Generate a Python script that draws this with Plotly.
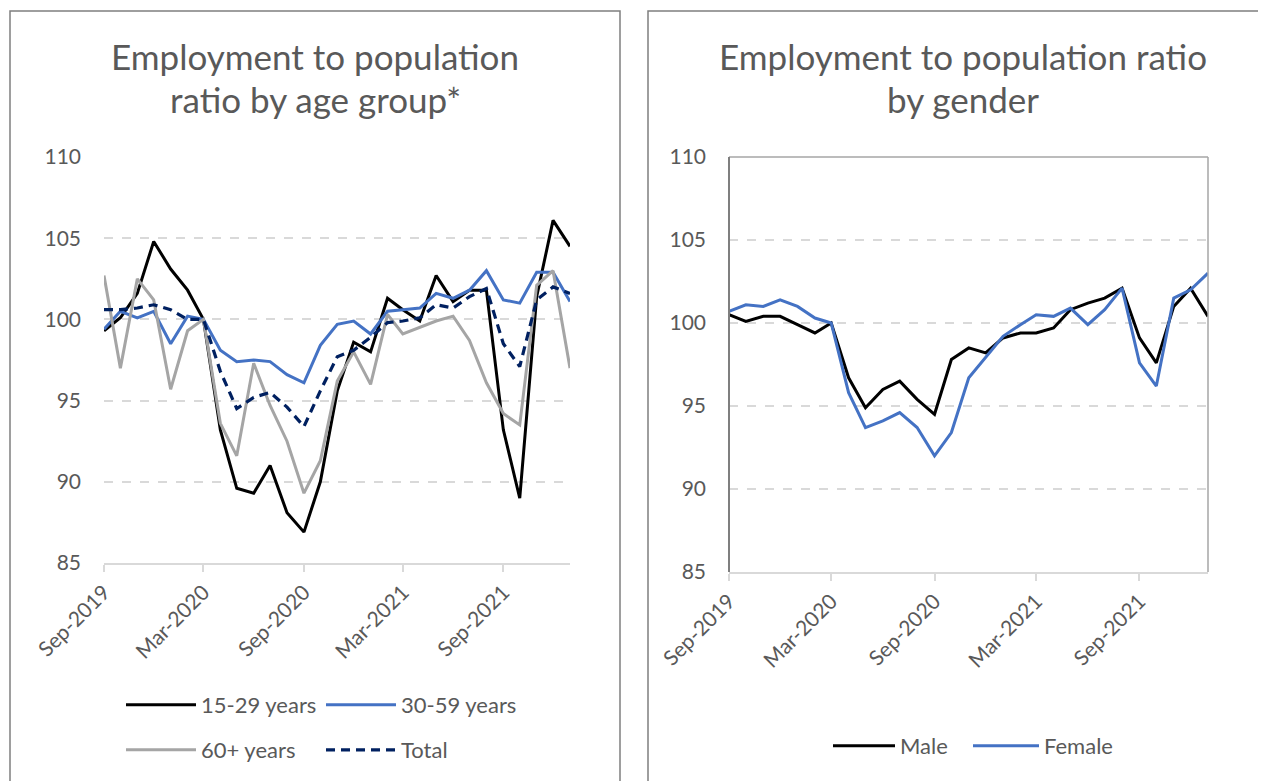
import plotly.graph_objects as go

months = ["2019-09-01","2019-10-01","2019-11-01","2019-12-01","2020-01-01","2020-02-01",
          "2020-03-01","2020-04-01","2020-05-01","2020-06-01","2020-07-01","2020-08-01",
          "2020-09-01","2020-10-01","2020-11-01","2020-12-01","2021-01-01","2021-02-01",
          "2021-03-01","2021-04-01","2021-05-01","2021-06-01","2021-07-01","2021-08-01",
          "2021-09-01","2021-10-01","2021-11-01","2021-12-01","2022-01-01"]

age_15_29 = [99.3, 100.1, 101.6, 104.8, 103.1, 101.8, 100.0, 93.2, 89.6, 89.3, 91.0, 88.1,
             86.9, 90.0, 95.6, 98.6, 98.0, 101.3, 100.6, 99.9, 102.7, 101.1, 101.8, 101.8,
             93.2, 89.0, 101.4, 106.1, 104.5]
age_30_59 = [99.4, 100.5, 100.1, 100.5, 98.5, 100.2, 100.0, 98.1, 97.4, 97.5, 97.4, 96.6,
             96.1, 98.4, 99.7, 99.9, 99.1, 100.5, 100.6, 100.7, 101.6, 101.3, 101.8, 103.0,
             101.2, 101.0, 102.9, 102.9, 101.1]
age_60p = [102.7, 97.0, 102.5, 101.2, 95.7, 99.3, 100.0, 93.6, 91.6, 97.3, 94.7, 92.5,
           89.3, 91.3, 96.2, 98.0, 96.0, 100.3, 99.1, 99.5, 99.9, 100.2, 98.7, 96.1,
           94.2, 93.5, 102.1, 103.0, 97.0]
total = [100.6, 100.6, 100.7, 100.9, 100.6, 100.0, 100.0, 96.8, 94.5, 95.2, 95.5, 94.6,
         93.4, 95.6, 97.7, 98.1, 98.9, 99.8, 99.9, 100.1, 100.9, 100.7, 101.4, 101.9,
         98.5, 97.1, 101.2, 102.0, 101.6]

male = [100.5, 100.1, 100.4, 100.4, 99.9, 99.4, 100.0, 96.7, 94.9, 96.0, 96.5, 95.4,
        94.5, 97.8, 98.5, 98.2, 99.1, 99.4, 99.4, 99.7, 100.8, 101.2, 101.5, 102.1,
        99.1, 97.6, 101.0, 102.1, 100.4]
female = [100.7, 101.1, 101.0, 101.4, 101.0, 100.3, 100.0, 95.8, 93.7, 94.1, 94.6, 93.7,
          92.0, 93.4, 96.7, 97.9, 99.2, 99.9, 100.5, 100.4, 100.9, 99.9, 100.8, 102.1,
          97.6, 96.2, 101.5, 102.0, 103.0]

title_left = ["Employment to population", "ratio by age group*"]
title_right = ["Employment to population ratio", "by gender"]

W, H = 1266, 781
OFF = 8  # page body margin
TXT = "#595959"
FONT = "Lato"

def px(x):
    return (x - OFF) / W

def py(y):
    return 1 - (y - OFF) / H

fig = go.Figure()

def add(x, y, name, color, xa, ya, legend, dash="solid", width=3):
    fig.add_trace(go.Scatter(x=x, y=y, name=name, mode="lines",
                             line=dict(color=color, width=width, dash=dash),
                             xaxis=xa, yaxis=ya, legend=legend))

add(months, age_15_29, "15-29 years", "#000000", "x", "y", "legend")
add(months, age_30_59, "30-59 years", "#4472C4", "x", "y", "legend")
add(months, age_60p, "60+ years", "#A5A5A5", "x", "y", "legend2")
add(months, total, "Total", "#002060", "x", "y", "legend2", dash="9px,6px", width=3.2)
add(months, male, "Male", "#000000", "x2", "y2", "legend3")
add(months, female, "Female", "#4472C4", "x2", "y2", "legend4")

xcommon = dict(type="date", range=["2019-09-01", "2022-01-01"], tick0="2019-09-01",
               dtick="M6", tickformat="%b-%Y", tickangle=-45, showgrid=False,
               showline=True, linecolor="#d9d9d9", linewidth=1.5, ticks="outside",
               ticklen=7, tickcolor="#d9d9d9", tickwidth=1.5, automargin=False,
               tickfont=dict(family=FONT, size=21, color=TXT), zeroline=False)
ycommon = dict(range=[85, 110], tick0=85, dtick=5, showgrid=True, gridcolor="#d9d9d9",
               gridwidth=1.5, griddash="dash", zeroline=False, automargin=False,
               tickfont=dict(family=FONT, size=21, color=TXT), ticks="",
               ticklabelstandoff=22)

LEGFONT = dict(family=FONT, size=22, color=TXT)

def leg(x, y, ew=None, iw=70):
    d = dict(orientation="h", x=px(x), y=py(y), xanchor="left", yanchor="middle",
             font=LEGFONT, itemwidth=iw, bgcolor="rgba(0,0,0,0)")
    if ew:
        d["entrywidth"] = ew
    return d

def title(text, x, y):
    return dict(text=text, x=px(x), y=py(y), xref="paper", yref="paper",
                xanchor="center", yanchor="middle", showarrow=False,
                font=dict(family=FONT, size=35, color=TXT))

fig.update_layout(
    template="none",
    width=W, height=H, margin=dict(l=0, r=0, t=0, b=0, autoexpand=False),
    paper_bgcolor="white", plot_bgcolor="white",
    xaxis=dict(domain=[px(104), px(570)], anchor="y", **xcommon),
    yaxis=dict(domain=[py(563), py(157)], anchor="x", showline=False, **ycommon),
    xaxis2=dict(domain=[px(729), px(1208)], anchor="y2", **xcommon),
    yaxis2=dict(domain=[py(572), py(157)], anchor="x2", showline=False, **ycommon),
    legend=leg(121, 705, ew=115),
    legend2=leg(121, 750, ew=115),
    legend3=leg(828, 746, iw=62),
    legend4=leg(968, 746, iw=66),
    annotations=[
        title(title_left[0], 315, 56), title(title_left[1], 315, 99),
        title(title_right[0], 963, 56), title(title_right[1], 963, 99),
    ],
    shapes=[
        dict(type="rect", xref="paper", yref="paper", x0=px(10), x1=px(620),
             y0=-0.05, y1=py(11), line=dict(color="#7f7f7f", width=1.5)),
        dict(type="rect", xref="paper", yref="paper", x0=px(648), x1=1.05,
             y0=-0.05, y1=py(11), line=dict(color="#7f7f7f", width=1.5)),
        dict(type="line", xref="x2 domain", yref="y2 domain", x0=0, x1=1, y0=1, y1=1,
             line=dict(color="#a6a6a6", width=1.5)),
        dict(type="line", xref="x2 domain", yref="y2 domain", x0=1, x1=1, y0=0, y1=1,
             line=dict(color="#a6a6a6", width=1.5)),
        dict(type="line", xref="x2 domain", yref="y2 domain", x0=0, x1=0, y0=0, y1=1,
             line=dict(color="#7f7f7f", width=2)),
    ],
)

fig.write_html("out.html")
